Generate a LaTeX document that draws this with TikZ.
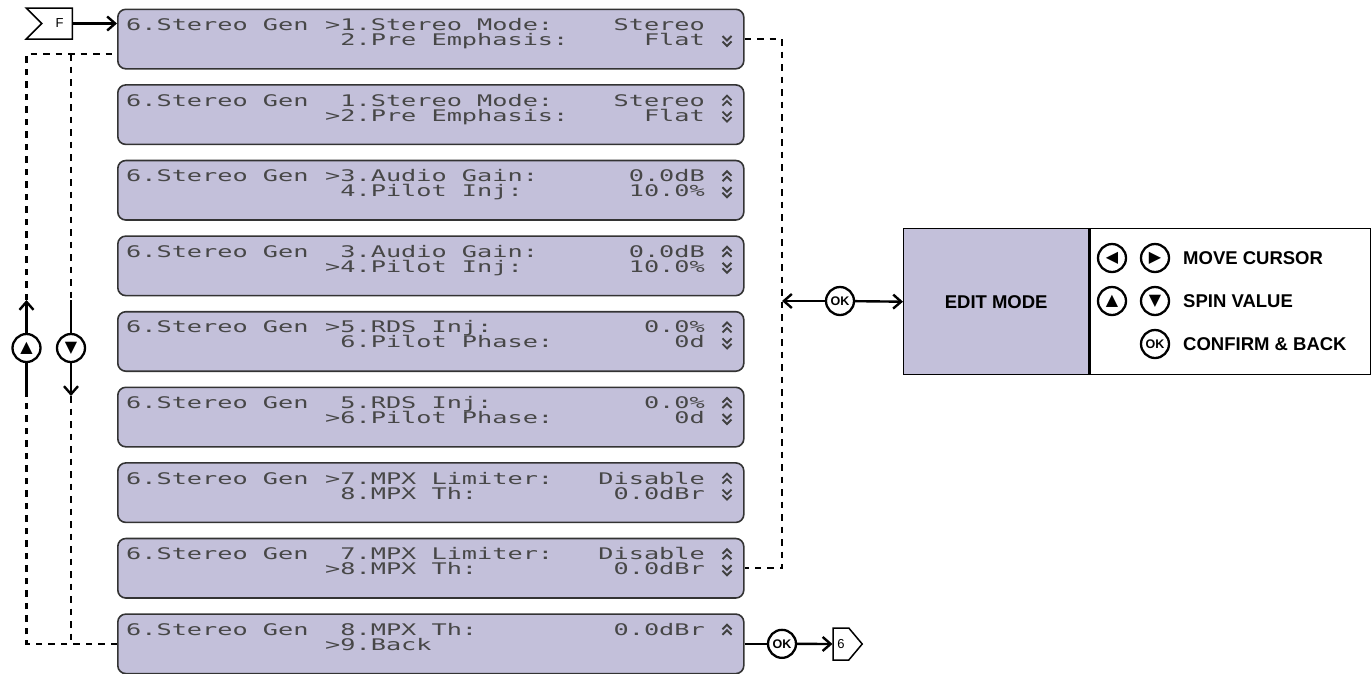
\documentclass[tikz,border=0pt]{standalone}
\usepackage{fontspec}
\setmainfont{Liberation Sans}
\newfontfamily\lcdfont[FakeStretch=1.578]{DejaVu Sans Mono}
\newfontfamily\symfont{DejaVu Sans}
\usetikzlibrary{arrows.meta,positioning,shapes.symbols}
\definecolor{lcdfill}{RGB}{195,192,218}
\newcommand\keysym[1]{{\symfont\fontsize{16}{16}\selectfont #1}}
\tikzset{
  upchev/.pic={\draw[line width=1.9pt,black!75] (-4.5,-1) -- (0,-5.5) -- (4.5,-1) (-4.5,4.5) -- (0,0) -- (4.5,4.5);},
  dnchev/.pic={\draw[line width=1.9pt,black!75] (-4.5,1) -- (0,5.5) -- (4.5,1) (-4.5,-4.5) -- (0,0) -- (4.5,-4.5);}
}
\begin{document}
\begin{tikzpicture}[x=1pt,y=-1pt,
  lcd/.style={draw=black!80, line width=1.6pt, rounded corners=8pt, fill=lcdfill,
    minimum width=626pt, minimum height=59.5pt, inner sep=0pt, anchor=north west},
  lcdtext/.style={font=\lcdfont\fontsize{16}{16}\selectfont, text=black!72, inner sep=0pt},
  keybtn/.style={circle, draw, line width=2.3pt, fill=white, minimum size=28pt,
    inner sep=0pt, font=\bfseries\fontsize{12.5}{12.5}\selectfont},
  flow/.style={line width=2.4pt, -{Straight Barb[length=8pt,width=14pt]}},
  dashline/.style={line width=2.4pt, dash pattern=on 6.5pt off 6pt},
  tag/.style={draw, line width=1.5pt, shape=signal, inner sep=0pt, font=\fontsize{13}{13}\selectfont},
  help/.style={font=\bfseries\fontsize{18.5}{18.5}\selectfont, inner sep=0pt}]
  \useasboundingbox (0,0) rectangle (1371,673);

  % menu screens
  \foreach \i/\itema/\vala/\itemb/\valb/\up/\dn in {
    1/>1.Stereo Mode:/Stereo/\phantom{>}2.Pre Emphasis:/Flat/0/1,
    2/\phantom{>}1.Stereo Mode:/Stereo/>2.Pre Emphasis:/Flat/1/1,
    3/>3.Audio Gain:/0.0dB/\phantom{>}4.Pilot Inj:/10.0\%/1/1,
    4/\phantom{>}3.Audio Gain:/0.0dB/>4.Pilot Inj:/10.0\%/1/1,
    5/>5.RDS Inj:/0.0\%/\phantom{>}6.Pilot Phase:/0d/1/1,
    6/\phantom{>}5.RDS Inj:/0.0\%/>6.Pilot Phase:/0d/1/1,
    7/>7.MPX Limiter:/Disable/\phantom{>}8.MPX Th:/0.0dBr/1/1,
    8/\phantom{>}7.MPX Limiter:/Disable/>8.MPX Th:/0.0dBr/1/1,
    9/\phantom{>}8.MPX Th:/0.0dBr/>9.Back//1/0} {
    \pgfmathsetmacro\ytop{8.5+75.6*(\i-1)}
    \node[lcd] (lcd\i) at (117,\ytop) {};
    \node[lcdtext, anchor=base west] (lcd\i-m) at (126,\ytop+22) {6.Stereo Gen};
    \node[lcdtext, anchor=base west] (lcd\i-a) at (325,\ytop+22) {\itema};
    \node[lcdtext, anchor=base east] (lcd\i-av) at (705,\ytop+22) {\vala};
    \node[lcdtext, anchor=base west] (lcd\i-b) at (325,\ytop+37) {\itemb};
    \node[lcdtext, anchor=base east] (lcd\i-bv) at (705,\ytop+37) {\valb};
    \ifnum\up=1 \pic at (727,\ytop+17) {upchev}; \fi
    \ifnum\dn=1 \pic at (727,\ytop+32) {dnchev}; \fi
  }

  % entry
  \node[tag, signal from=west, signal to=nowhere, minimum width=46pt, minimum height=31pt] (ftag) at (57,23.5) {\hspace{5pt}F};
  \draw[flow] (ftag.east) -- (ftag.east -| lcd1.west);

  % up / down keys
  \coordinate (lcd1in) at (117,54);
  \node[keybtn] (upkey) at (26.5,348) {\keysym{▲}};
  \node[keybtn] (dnkey) at (71,348) {\keysym{▼}};
  \coordinate (uplo) at (26.5,396);
  \coordinate (uphi) at (26.5,300);
  \coordinate (dnhi) at (71,300);
  \coordinate (dnlo) at (71,396);
  \draw[dashline] (lcd9.west) -| (uplo);
  \draw[line width=2.4pt] (uplo) -- (upkey.south);
  \draw[flow] (upkey.north) -- (uphi);
  \draw[dashline] (uphi) |- (lcd1in);
  \draw[dashline] (lcd1in -| dnhi) -- (dnhi);
  \draw[line width=2.4pt] (dnhi) -- (dnkey.north);
  \draw[flow] (dnkey.south) -- (dnlo);
  \draw[dashline] (dnlo) -- (dnlo |- lcd9.west);

  % edit mode
  \coordinate (rbus) at (782,0);
  \draw[dashline] (lcd1.east) -- (lcd1.east -| rbus) -- (lcd8.east -| rbus) -- (lcd8.east);
  \node[draw, line width=1.4pt, fill=lcdfill, minimum width=185pt, minimum height=146pt,
    anchor=north west, help] (edit) at (903,228) {EDIT MODE};
  \node[draw, line width=1.4pt, minimum width=281pt, minimum height=146pt,
    anchor=north west] (keys) at (edit.north east) {};
  \node[keybtn] (okedit) at (840,301) {OK};
  \draw[flow] (okedit) -- (okedit -| rbus);
  \draw[flow] (okedit) -- (edit.west);

  \node[keybtn] (kleft) at (1112,258) {\keysym{◀}};
  \node[keybtn] (kright) at (1155,258) {\keysym{▶}};
  \node[keybtn] (kup) at (1112,301) {\keysym{▲}};
  \node[keybtn] (kdown) at (1155,301) {\keysym{▼}};
  \node[keybtn] (kok) at (1155,344) {OK};
  \node[help, anchor=west] (tmove) at (1183,258) {MOVE CURSOR};
  \node[help, anchor=west] (tspin) at (1183,301) {SPIN VALUE};
  \node[help, anchor=west] (tok) at (1183,344) {CONFIRM \& BACK};

  % back
  \node[keybtn] (okback) at (lcd9.east -| rbus) {OK};
  \node[tag, signal to=east, signal from=nowhere, signal pointer angle=100,
    minimum width=29pt, minimum height=32pt] (backtag) at (841,644) {6\hspace{6pt}};
  \draw[line width=2.4pt] (lcd9.east) -- (okback);
  \draw[flow] (okback) -- (backtag);
\end{tikzpicture}
\end{document}
